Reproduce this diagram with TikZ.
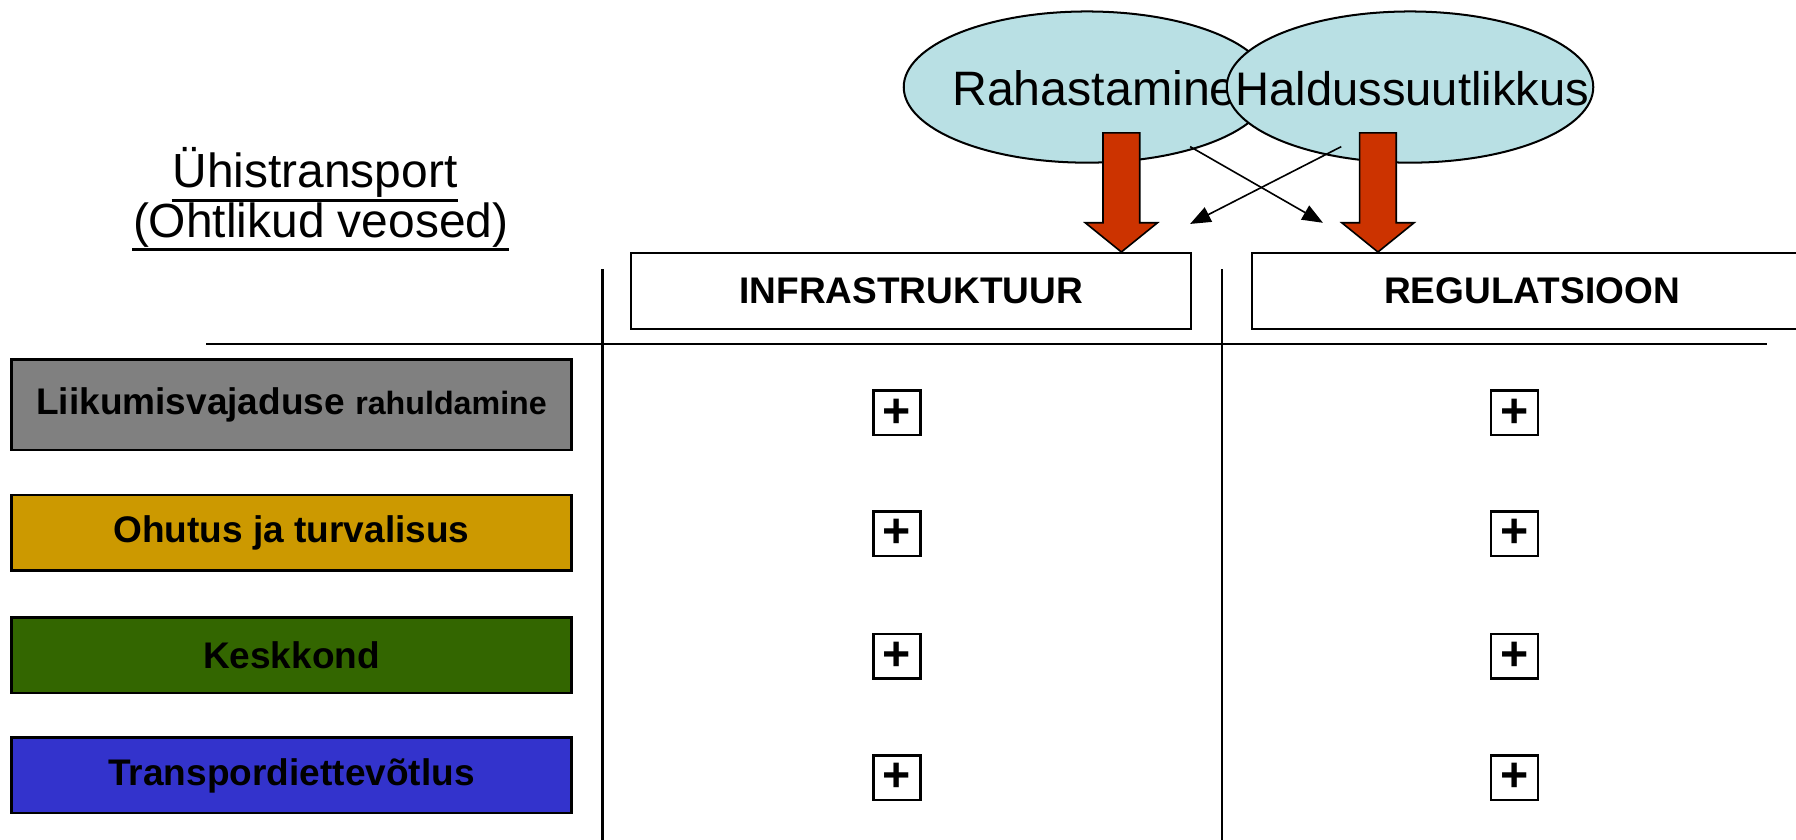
\documentclass[tikz,border=0pt]{standalone}
\usepackage{fontspec}
\setmainfont{Liberation Sans}
\usepackage{xcolor}
\usepackage{tikz}
\usetikzlibrary{shapes, positioning, calc, arrows.meta}

\definecolor{ellfill}{RGB}{185,224,228}
\definecolor{arrred}{RGB}{204,51,0}
\definecolor{needgray}{RGB}{128,128,128}
\definecolor{safegold}{RGB}{204,153,0}
\definecolor{envgreen}{RGB}{51,102,0}
\definecolor{firmblue}{RGB}{51,51,204}

\begin{document}
\begin{tikzpicture}
		\tikzstyle{goal}=[draw=black, line width=0.6pt, minimum width=48.9mm, minimum height=6.6mm, inner sep=0pt, text=black, font=\fontsize{9.2}{11}\selectfont\bfseries]
		\tikzstyle{head}=[goal, fill=white]
		\tikzstyle{res}=[ellipse, draw=black, fill=ellfill, line width=0.5pt, minimum width=32mm, minimum height=13.2mm]
		\tikzstyle{restext}=[anchor=base, inner sep=0pt, font=\fontsize{11.7}{14}\selectfont]
		\tikzstyle{plus}=[draw=black, line width=0.6pt, minimum width=4.1mm, minimum height=3.9mm, inner sep=0pt, font=\fontsize{12}{14}\selectfont\bfseries]
		\tikzstyle{title}=[anchor=base, inner sep=0pt, font=\fontsize{11.9}{14}\selectfont]
		
		\clip (0,0) rectangle (15.68,-7.325);
		
		\node (title1) at (2.75,-1.64) [title] {Ühistransport};
		\node (title2) at (2.80,-2.07) [title] {(Ohtlikud veosed)};
		\draw[line width=0.8pt] ($(title1.base west)+(0,-0.11)$) -- ($(title1.base east)+(0,-0.11)$);
		\draw[line width=0.8pt] ($(title2.base west)+(0,-0.11)$) -- ($(title2.base east)+(0,-0.11)$);
		
		\node (fund) at (9.49,-0.76) [res] {};
		\node (fundtext) at (9.555,-0.925) [restext, font=\fontsize{12}{14}\selectfont] {Rahastamine};
		\node (admin) at (12.31,-0.76) [res] {};
		\node (admintext) at (12.33,-0.925) [restext] {Haldussuutlikkus};
		
		\draw[line width=0.5pt] (1.80,-3.00) -- (15.43,-3.00);
		\draw[line width=0.5pt] (5.26,-2.35) -- (5.26,-7.40);
		\draw[line width=0.5pt] (10.67,-2.35) -- (10.67,-7.40);
		
		\node (infra) at (7.955,-2.54) [head] {INFRASTRUKTUUR};
		\node (regul) at (13.375,-2.54) [head] {REGULATSIOON};
		
		\foreach \x in {9.79,12.03}
			\draw[fill=arrred, line width=0.4pt] (\x-0.16,-1.16) -- (\x+0.16,-1.16) -- (\x+0.16,-1.945) -- (\x+0.315,-1.945) -- (\x,-2.20) -- (\x-0.315,-1.945) -- (\x-0.16,-1.945) -- cycle;
		
		\coordinate (fundfrom) at (10.39,-1.28);
		\coordinate (fundto) at (11.55,-1.945);
		\coordinate (adminfrom) at (11.71,-1.28);
		\coordinate (adminto) at (10.39,-1.955);
		\draw[-{Triangle[length=1.8mm, width=1.4mm]}, line width=0.4pt] (fundfrom) -- (fundto);
		\draw[-{Triangle[length=1.8mm, width=1.4mm]}, line width=0.4pt] (adminfrom) -- (adminto);
		
		\node (need) at (2.545,-3.535) [goal, fill=needgray, minimum height=7.9mm] {Liikumisvajaduse {\fontsize{8}{10}\selectfont rahuldamine}};
		\node (safe) at (2.545,-4.65) [goal, fill=safegold] {Ohutus ja turvalisus};
		\node (env) at (2.545,-5.72) [goal, fill=envgreen] {Keskkond};
		\node (firm) at (2.545,-6.77) [goal, fill=firmblue] {Transpordiettevõtlus};
		
		\foreach \y [count=\i] in {-3.605,-4.66,-5.73,-6.79} {
			\node (plusA\i) at (7.83,\y) [plus] {+};
			\node (plusB\i) at (13.22,\y) [plus] {+};
		}
		
\end{tikzpicture}
\end{document}
